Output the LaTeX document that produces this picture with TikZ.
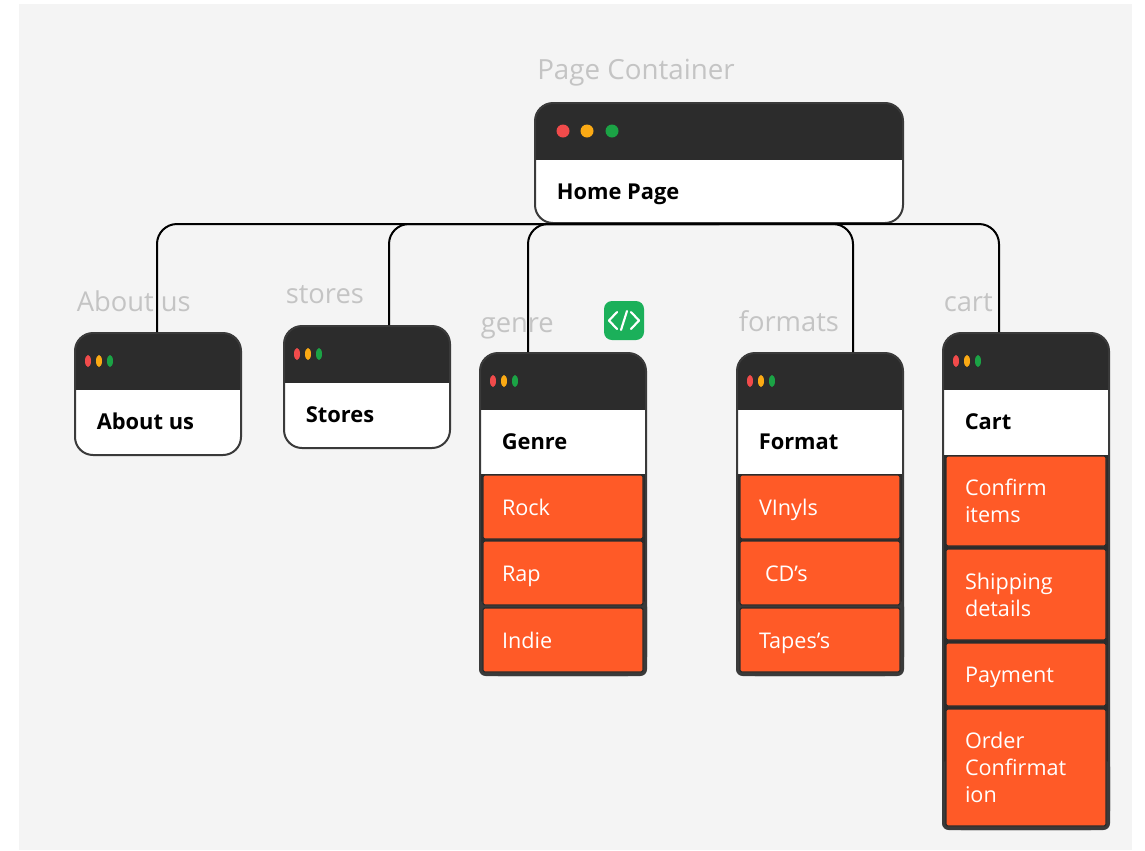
\documentclass[tikz,border=0pt]{standalone}
\usepackage{fontspec}
\setmainfont{Open Sans}
\definecolor{darkbar}{HTML}{2C2C2C}
\definecolor{edgegray}{HTML}{3A3A3A}
\definecolor{pagebg}{HTML}{F4F4F4}
\definecolor{itemorange}{HTML}{FF5A27}
\definecolor{labelgray}{HTML}{C4C4C4}
\definecolor{dotred}{HTML}{F14B4B}
\definecolor{dotamber}{HTML}{FBAA14}
\definecolor{dotgreen}{HTML}{1BA345}
\definecolor{icongreen}{HTML}{1BB05A}
\newcommand{\itemstrut}{\rule[-4pt]{0pt}{20pt}}
\tikzset{
  x=0.75pt,y=-0.75pt,
  pagelabel/.style={anchor=base west,inner sep=0pt,text=labelgray,font=\fontsize{20.8pt}{24pt}\selectfont},
  sublabel/.style={pagelabel,font=\fontsize{20.5pt}{24pt}\selectfont},
  wintitle/.style={anchor=base west,inner sep=0pt,text=black,font=\fontsize{16.4pt}{20pt}\selectfont\bfseries},
  itemtext/.style={text=white,font=\fontsize{16.2pt}{20.25pt}\selectfont,align=left,inner xsep=14.25pt,inner ysep=0pt,anchor=center,draw=darkbar,line width=1pt,fill=itemorange,rounded corners=1.5pt},
  conn/.style={draw=black,line width=1.5pt,rounded corners=15pt},
}
% name, x1, y1, x2, y2, header bottom, white bottom
\newcommand{\winbox}[7]{%
  \pgfmathsetmacro{\wcx}{(#2+#4)/2}\pgfmathsetmacro{\wcy}{(#3+#5)/2}%
  \pgfmathsetmacro{\ww}{(#4-#2)*0.75}\pgfmathsetmacro{\wh}{(#5-#3)*0.75}%
  \pgfmathsetmacro{\wha}{(#6-#3)*0.75}\pgfmathsetmacro{\whb}{(#7-#3)*0.75}%
  \node[draw=edgegray,line width=1.5pt,fill=darkbar,rounded corners=13.5pt,inner sep=0pt,
    minimum width=\ww pt,minimum height=\wh pt,
    path picture={\fill[white,sharp corners] ([yshift=-\wha pt]path picture bounding box.north west) rectangle ([yshift=-\whb pt]path picture bounding box.north east);}]
    (#1) at (\wcx,\wcy) {};%
}
% x of the first dot, y, step
\newcommand{\smalldots}[3]{%
  \fill[dotred] (#1,#2) ellipse [x radius=3,y radius=6];
  \fill[dotamber] ({#1+#3},#2) ellipse [x radius=3,y radius=6];
  \fill[dotgreen] ({#1+2*#3},#2) ellipse [x radius=3,y radius=6];
}
% name, x1, y1, x2, y2, text
\newcommand{\itembox}[6]{%
  \pgfmathsetmacro{\icx}{(#2+#4)/2}\pgfmathsetmacro{\icy}{(#3+#5)/2}%
  \pgfmathsetmacro{\iw}{(#4-#2)*0.75}\pgfmathsetmacro{\ih}{(#5-#3)*0.75}%
  \pgfmathsetmacro{\itw}{\iw-28.5}%
  \node[itemtext,minimum width=\iw pt,minimum height=\ih pt,text width=\itw pt] (#1) at (\icx,\icy) {\itemstrut#6\itemstrut};%
}
\begin{document}
\begin{tikzpicture}
\useasboundingbox (0,0) rectangle (1145,850);
\fill[white] (0,0) rectangle (1145,850);
\fill[pagebg] (19,4) rectangle (1132,850);

% grey page labels
\node[pagelabel] (lblpage) at (537,79) {Page Container};
\node[sublabel] (lblabout) at (76.5,311) {About us};
\node[sublabel] (lblstores) at (285.5,303) {stores};
\node[sublabel] (lblgenre) at (480.5,332) {genre};
\node[sublabel] (lblformats) at (738.5,331) {formats};
\node[sublabel] (lblcart) at (943.5,311) {cart};

% windows
\winbox{home}{535}{103}{903}{223}{160}{223}
\winbox{about}{75}{333}{241}{455}{390}{455}
\winbox{stores}{284}{326}{450}{448}{383}{448}
\winbox{genre}{480}{353}{646}{675}{410}{474}
\winbox{format}{737}{353}{903}{675}{410}{474}
\winbox{cart}{943}{333}{1109}{829}{390}{455}

% tighter lower corners of the windows that hold items
\fill[edgegray,rounded corners=5pt] (479,600) rectangle (647,676);
\fill[edgegray,rounded corners=5pt] (736,600) rectangle (904,676);
\fill[edgegray,rounded corners=5pt] (942,760) rectangle (1110,830);

% connectors
\draw[conn] (home.south) -| ([shift={(-1,0)}]about.north);
\draw[conn] (home.south) -| ([shift={(22,0)}]stores.north);
\draw[conn] (home.south) -| ([shift={(-35,0)}]genre.north);
\draw[conn] (home.south) -| ([shift={(33,0)}]format.north);
\draw[conn] (home.south) -| ([shift={(-27,0)}]cart.north);

% traffic lights
\fill[dotred] (563,131) circle [radius=6.5];
\fill[dotamber] (587,131) circle [radius=6.5];
\fill[dotgreen] (612,131) circle [radius=6.5];
\smalldots{88}{361}{11}
\smalldots{297}{354}{11}
\smalldots{493}{381}{11}
\smalldots{750}{381}{11}
\smalldots{956}{361}{11}

% window titles
\node[wintitle] (thome) at (556.5,199) {Home Page};
\node[wintitle] (tabout) at (96.5,429) {About us};
\node[wintitle] (tstores) at (305.5,422) {Stores};
\node[wintitle] (tgenre) at (501.5,449) {Genre};
\node[wintitle] (tformat) at (758.5,449) {Format};
\node[wintitle] (tcart) at (964.5,429) {Cart};

% orange items
\itembox{rock}{483}{475}{643}{539}{Rock}
\itembox{rap}{483}{541}{643}{605}{Rap}
\itembox{indie}{483}{608}{643}{672}{Indie}
\itembox{vinyls}{740}{475}{900}{539}{VInyls}
\itembox{cds}{740}{541}{900}{605}{\hspace*{4.5pt}CD’s}
\itembox{tapes}{740}{608}{900}{672}{Tapes’s}
\itembox{confirm}{946}{456}{1106}{546}{Confirm\\items}
\itembox{shipping}{946}{549}{1106}{640}{Shipping\\details}
\itembox{payment}{946}{643}{1106}{706}{Payment}
\itembox{order}{946}{709}{1106}{826}{Order\\Confirmat\\ion}

% code icon
\fill[icongreen,rounded corners=6pt] (604,301) rectangle (644,340);
\draw[white,line width=1.6pt,line cap=round,line join=round] (617,312) -- (609,320.5) -- (617,329);
\draw[white,line width=1.6pt,line cap=round,line join=round] (631,312) -- (639,320.5) -- (631,329);
\draw[white,line width=1.6pt,line cap=round] (621,330) -- (627,311);
\end{tikzpicture}
\end{document}
